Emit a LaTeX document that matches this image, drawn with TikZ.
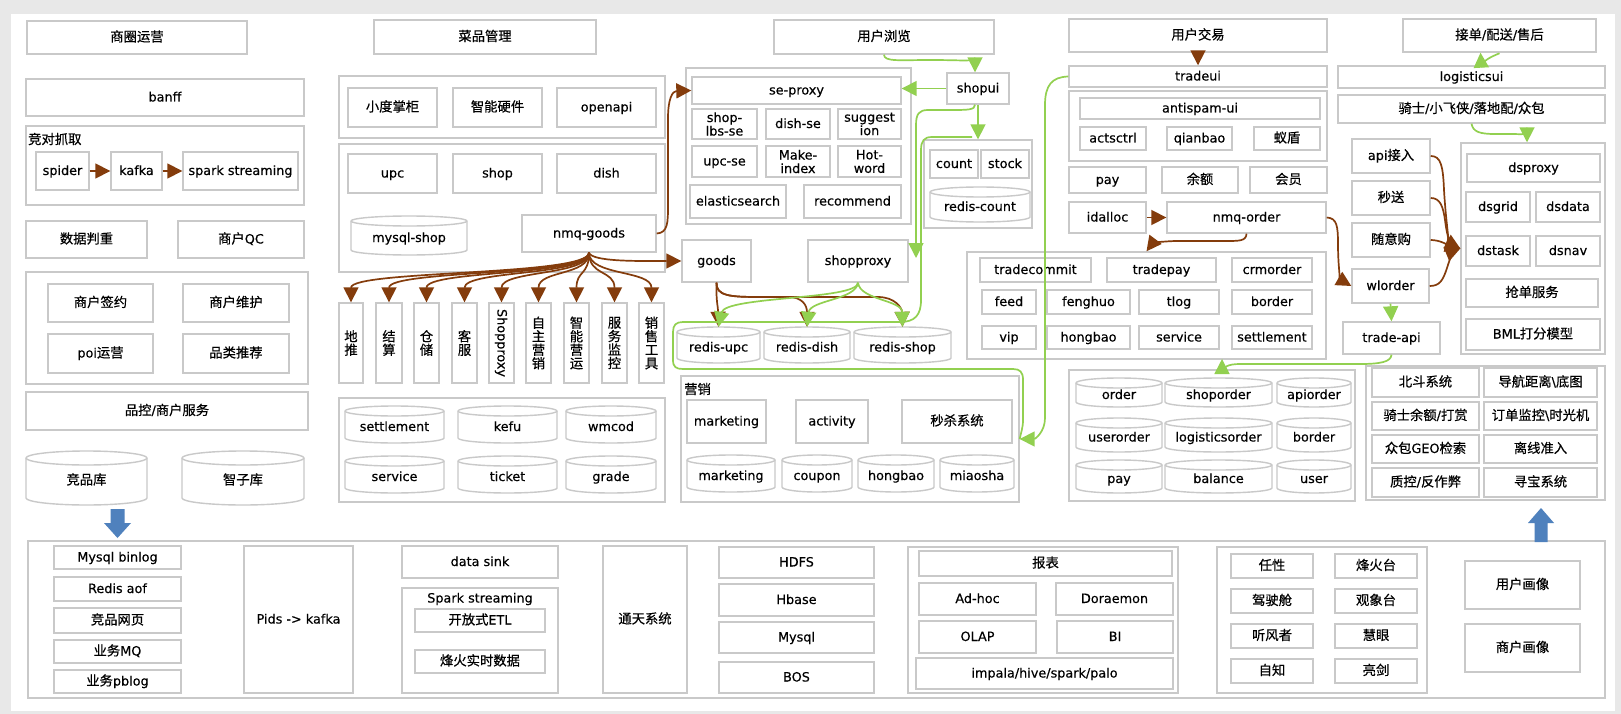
\documentclass[tikz,border=0pt]{standalone}
\usepackage{fontspec}
\setmainfont{DejaVu Sans}[FakeBold=0.4]
\newfontfamily\cjkfam{Noto Sans CJK SC}[Scale=1.04,FakeBold=0.5]
\newfontfamily\latfam{DejaVu Sans}[FakeBold=0.4]
\usetikzlibrary{fit,arrows.meta,shadows}
\XeTeXinterchartokenstate=1
\newXeTeXintercharclass\CJKcls
\makeatletter
\count@="3000
\loop
 \XeTeXcharclass\count@=\CJKcls
 \advance\count@\@ne
\ifnum\count@<"A000 \repeat
\makeatother
\XeTeXinterchartoks 0 \CJKcls = {\cjkfam}
\XeTeXinterchartoks 4095 \CJKcls = {\cjkfam}
\XeTeXinterchartoks \CJKcls 0 = {\latfam}
\definecolor{brn}{HTML}{843C0C}
\definecolor{grn}{HTML}{92D050}
\definecolor{blu}{HTML}{4F81BD}
\definecolor{bord}{HTML}{C9C9C9}
\definecolor{bgc}{HTML}{E8E8E8}
\definecolor{shd}{HTML}{E1E6EE}
\tikzset{
 bx/.style={draw=bord, line width=1.4pt, fill=white, inner sep=0pt,
   drop shadow={shadow xshift=1.3pt,shadow yshift=-1.3pt,fill=shd,opacity=1}},
 tx/.style={inner sep=0pt, text height=10.5pt, text depth=2.5pt},
 ml/.style={text height=, text depth=, align=center},
 cylst/.style={draw=bord, line width=1.4pt, fill=white},
 brar/.style={draw=brn, line width=1.7pt, -{Triangle[length=15pt,width=15pt]}},
 gnar/.style={draw=grn, line width=1.7pt, -{Triangle[length=15pt,width=15pt]}},
 gnl/.style={draw=grn, line width=1.7pt},
}
\newcommand\B[7][]{\node[bx,fit={(#3,#4)(#5,#6)}] (#2) {};
 \node[tx,#1] (#2t) at (#2.center) {#7};}
\newcommand\Cy[7][5]{%
 \pgfmathsetmacro\cyr{(#5-#3)/2}%
 \draw[cylst] (#3,#4+#1) -- (#3,#6-#1) arc[start angle=180,end angle=360,x radius=\cyr pt,y radius=#1pt] -- (#5,#4+#1) arc[start angle=0,end angle=180,x radius=\cyr pt,y radius=#1pt] -- cycle;
 \draw[cylst,fill=none] (#3,#4+#1) arc[start angle=180,end angle=360,x radius=\cyr pt,y radius=#1pt];
 \node[inner sep=0pt,fit={(#3,#4)(#5,#6)}] (#2) {};
 \node[tx] (#2t) at ([yshift=-2.5pt]#2.center) {#7};}
\begin{document}
\begin{tikzpicture}[x=1pt,y=-1pt,font=\fontsize{12.8}{13.5}\selectfont]
\useasboundingbox (0,0) rectangle (1621,714);
\fill[bgc] (0,0) rectangle (1621,714);
\fill[white] (11,14) rectangle (1615,711);
% ---------- column 1
\B{sqyy}{27}{21}{247}{54}{商圈运营}
\B{banff}{26}{79}{304}{116}{banff}
\B{jdc}{26}{126}{304}{205}{}
\node[anchor=west,inner sep=0pt] (jdl) at (28,139) {竞对抓取};
\B{spider}{36}{152}{89}{190}{spider}
\B{kafka}{111}{152}{162}{190}{kafka}
\B{spark}{183}{152}{298}{190}{spark streaming}
\B{sjpz}{26}{221}{147}{258}{数据判重}
\B{shqc}{178}{221}{304}{258}{商户QC}
\B{shc}{26}{272}{308}{384}{}
\B{shqy}{48}{284}{153}{322}{商户签约}
\B{shwh}{183}{284}{289}{322}{商户维护}
\B{poiyy}{48}{334}{153}{373}{poi运营}
\B{pltj}{183}{334}{289}{373}{品类推荐}
\B{pkfw}{26}{392}{308}{430}{品控/商户服务}
\Cy[7]{jpk}{26}{451}{147}{505}{竞品库}
\Cy[7]{zzk}{182}{451}{304}{505}{智子库}
% ---------- column 2
\B{cpgl}{374}{20}{596}{54}{菜品管理}
\B{cone}{339}{76}{665}{138}{}
\B{xdzg}{348}{88}{437}{127}{小度掌柜}
\B{znyj}{453}{88}{542}{127}{智能硬件}
\B{openapi}{557}{88}{656}{127}{openapi}
\B{ctwo}{339}{144}{665}{272}{}
\B{upc}{348}{154}{437}{193}{upc}
\B{shop}{453}{154}{542}{193}{shop}
\B{dish}{557}{154}{656}{193}{dish}
\Cy{mysqlshop}{351}{216}{467}{255}{mysql-shop}
\B{nmqgoods}{522}{215}{656}{252}{nmq-goods}
\B[ml]{dt}{339}{303}{363}{383}{地\\推}
\B[ml]{js}{376}{303}{402}{383}{结\\算}
\B[ml]{cc}{414}{303}{439}{383}{仓\\储}
\B[ml]{kf}{452}{303}{477}{383}{客\\服}
\B[rotate=-90]{spx}{489}{303}{514}{383}{Shopproxy}
\B[ml]{zzyx}{526}{303}{551}{383}{自\\主\\营\\销}
\B[ml]{znyy}{564}{303}{589}{383}{智\\能\\营\\运}
\B[ml]{fwjk}{602}{303}{627}{383}{服\\务\\监\\控}
\B[ml]{xsgj}{639}{303}{664}{383}{销\\售\\工\\具}
\B{cthree}{339}{398}{665}{502}{}
\Cy{settle}{345}{406}{444}{443}{settlement}
\Cy{kefu}{458}{406}{557}{443}{kefu}
\Cy{wmcod}{566}{406}{656}{443}{wmcod}
\Cy{service}{345}{456}{444}{493}{service}
\Cy{ticket}{458}{456}{557}{493}{ticket}
\Cy{grade}{566}{456}{656}{493}{grade}
% ---------- column 3
\B{yhll}{774}{20}{994}{54}{用户浏览}
\B{sec}{686}{68}{911}{224}{}
\B{seproxy}{692}{77}{901}{104}{se-proxy}
\B[ml]{shoplbs}{692}{109}{757}{139}{shop-\\lbs-se}
\B{dishse}{766}{109}{830}{139}{dish-se}
\B[ml]{suggest}{838}{109}{901}{139}{suggest\\ion}
\B{upcse}{692}{146}{757}{177}{upc-se}
\B[ml]{makeidx}{766}{146}{830}{177}{Make-\\index}
\B[ml]{hotword}{838}{146}{901}{177}{Hot-\\word}
\B{es}{690}{185}{786}{218}{elasticsearch}
\B{recommend}{804}{185}{901}{218}{recommend}
\B{shopui}{947}{73}{1009}{104}{shopui}
\B{cntc}{924}{140}{1032}{228}{}
\B{count}{930}{150}{978}{178}{count}
\B{stock}{981}{150}{1029}{178}{stock}
\Cy{rcount}{930}{187}{1030}{222}{redis-count}
\B{goods}{682}{240}{751}{282}{goods}
\B{shopproxy}{808}{240}{908}{282}{shopproxy}
\Cy{rupc}{677}{327}{760}{363}{redis-upc}
\Cy{rdish}{764}{327}{850}{363}{redis-dish}
\Cy{rshop}{854}{327}{951}{363}{redis-shop}
\B{yxc}{681}{376}{1019}{502}{}
\node[anchor=west,inner sep=0pt] (yxl) at (684,389) {营销};
\B{mkt}{687}{400}{766}{443}{marketing}
\B{activity}{796}{400}{868}{443}{activity}
\B{msxt}{902}{400}{1012}{443}{秒杀系统}
\Cy{mktdb}{687}{455}{775}{492}{marketing}
\Cy{coupon}{782}{455}{852}{492}{coupon}
\Cy{hongbao}{858}{455}{934}{492}{hongbao}
\Cy{miaosha}{940}{455}{1014}{492}{miaosha}
% ---------- column 4
\B{yhjy}{1069}{19}{1327}{52}{用户交易}
\B{tradeui}{1069}{66}{1327}{87}{tradeui}
\B{asc}{1069}{91}{1327}{161}{}
\B{antispam}{1080}{98}{1320}{119}{antispam-ui}
\B{actsctrl}{1080}{127}{1146}{150}{actsctrl}
\B{qianbao}{1167}{127}{1232}{150}{qianbao}
\B{yidun}{1254}{127}{1320}{150}{蚁盾}
\B{pay}{1069}{167}{1146}{193}{pay}
\B{yue}{1162}{167}{1238}{193}{余额}
\B{huiyuan}{1250}{167}{1327}{193}{会员}
\B{idalloc}{1069}{202}{1146}{233}{idalloc}
\B{nmqorder}{1167}{202}{1326}{233}{nmq-order}
\B{bigc}{967}{252}{1326}{359}{}
\B{tradecommit}{980}{258}{1091}{282}{tradecommit}
\B{tradepay}{1107}{258}{1216}{282}{tradepay}
\B{crmorder}{1232}{258}{1312}{282}{crmorder}
\B{feed}{982}{290}{1036}{314}{feed}
\B{fenghuo}{1047}{290}{1130}{314}{fenghuo}
\B{tlog}{1139}{290}{1219}{314}{tlog}
\B{border}{1232}{290}{1312}{314}{border}
\B{vip}{982}{326}{1036}{349}{vip}
\B{hongbaot}{1047}{326}{1130}{349}{hongbao}
\B{servicet}{1139}{326}{1219}{349}{service}
\B{settlet}{1232}{326}{1312}{349}{settlement}
\B{orderc}{1069}{370}{1355}{501}{}
\Cy{order}{1076}{378}{1162}{407}{order}
\Cy{shoporder}{1165}{378}{1272}{407}{shoporder}
\Cy{apiorder}{1277}{378}{1351}{407}{apiorder}
\Cy{userorder}{1076}{418}{1162}{452}{userorder}
\Cy{logorder}{1165}{418}{1272}{452}{logisticsorder}
\Cy{borderdb}{1277}{418}{1351}{452}{border}
\Cy{paydb}{1076}{460}{1162}{493}{pay}
\Cy{balance}{1165}{460}{1272}{493}{balance}
\Cy{userdb}{1277}{460}{1351}{493}{user}
% ---------- column 5
\B{jdps}{1403}{19}{1596}{52}{接单/配送/售后}
\B{logui}{1338}{66}{1605}{88}{logisticsui}
\B{qishi}{1338}{95}{1605}{123}{骑士/小飞侠/落地配/众包}
\B{apijr}{1352}{139}{1430}{173}{api接入}
\B{miaosong}{1352}{181}{1430}{215}{秒送}
\B{suiyigou}{1352}{223}{1430}{257}{随意购}
\B{wlorder}{1352}{269}{1429}{303}{wlorder}
\B{tradeapi}{1343}{322}{1440}{354}{trade-api}
\B{dsc}{1461}{143}{1605}{354}{}
\B{dsproxy}{1467}{154}{1600}{182}{dsproxy}
\B{dsgrid}{1466}{192}{1530}{222}{dsgrid}
\B{dsdata}{1536}{192}{1600}{222}{dsdata}
\B{dstask}{1466}{236}{1530}{266}{dstask}
\B{dsnav}{1536}{236}{1600}{266}{dsnav}
\B{qdfw}{1466}{279}{1598}{307}{抢单服务}
\B{bml}{1466}{319}{1600}{350}{BML打分模型}
\B{bdc}{1366}{366}{1605}{500}{}
\B{bdxt}{1372}{368}{1479}{397}{北斗系统}
\B{dhjl}{1484}{368}{1597}{397}{导航距离\textbackslash 底图}
\B{qsye}{1372}{402}{1479}{430}{骑士余额/打赏}
\B{ddjk}{1484}{402}{1597}{430}{订单监控\textbackslash 时光机}
\B{geo}{1372}{435}{1479}{463}{众包GEO检索}
\B{lxzr}{1484}{435}{1597}{463}{离线准入}
\B{zkfzb}{1372}{468}{1479}{497}{质控/反作弊}
\B{xbxt}{1484}{468}{1597}{497}{寻宝系统}
% ---------- bottom
\B{botc}{28}{541}{1605}{698}{}
\B{binlog}{54}{546}{181}{569}{Mysql binlog}
\B{aof}{54}{577}{181}{601}{Redis aof}
\B{jpwy}{54}{608}{181}{633}{竞品网页}
\B{ywmq}{54}{640}{181}{663}{业务MQ}
\B{ywpb}{54}{670}{181}{693}{业务pblog}
\B{pids}{244}{546}{353}{693}{Pids -> kafka}
\B{datasink}{402}{546}{558}{578}{data sink}
\B{sparkc}{402}{588}{558}{693}{}
\node (sparkl) at (480,599) {Spark streaming};
\B{etl}{415}{609}{545}{632}{开放式ETL}
\B{fhss}{415}{650}{545}{673}{烽火实时数据}
\B{ttxt}{603}{546}{687}{693}{通天系统}
\B{hdfs}{719}{547}{874}{578}{HDFS}
\B{hbase}{719}{584}{874}{616}{Hbase}
\B{mysql}{719}{622}{874}{653}{Mysql}
\B{bos}{719}{662}{874}{693}{BOS}
\B{bbc}{908}{547}{1178}{693}{}
\B{baobiao}{919}{551}{1172}{576}{报表}
\B{adhoc}{919}{583}{1036}{615}{Ad-hoc}
\B{doraemon}{1056}{583}{1173}{615}{Doraemon}
\B{olap}{919}{621}{1036}{653}{OLAP}
\B{bi}{1057}{621}{1173}{653}{BI}
\B{impala}{916}{658}{1173}{689}{impala/hive/spark/palo}
\B{gridc}{1217}{547}{1427}{693}{}
\B{renxing}{1231}{554}{1313}{578}{任性}
\B{fht}{1335}{554}{1417}{578}{烽火台}
\B{jsc}{1231}{589}{1313}{613}{驾驶舱}
\B{gxt}{1335}{589}{1417}{613}{观象台}
\B{tfz}{1231}{624}{1313}{648}{听风者}
\B{huiyan}{1335}{624}{1417}{648}{慧眼}
\B{zizhi}{1231}{659}{1313}{683}{自知}
\B{liangjian}{1335}{659}{1417}{683}{亮剑}
\B{yhhx}{1465}{561}{1580}{609}{用户画像}
\B{shhx}{1465}{624}{1580}{672}{商户画像}
% ---------- blue block arrows
\fill[blu] (110.5,509) -- (124.5,509) -- (124.5,523) -- (131,523) -- (117.5,538) -- (104,523) -- (110.5,523) -- cycle;
\fill[blu] (1534.5,542) -- (1547.5,542) -- (1547.5,523) -- (1554,523) -- (1541,508) -- (1528,523) -- (1534.5,523) -- cycle;
% ---------- brown connectors
\draw[brar] (spider) -- (kafka);
\draw[brar] (kafka) -- (spark);
\foreach \t/\xx in {dt/351,js/389,cc/426.5,kf/464.5,spx/501.5,zzyx/538.5,znyy/576.5,fwjk/614.5,xsgj/651.5}
  \draw[brar] (nmqgoods.south) .. controls (589,276) and (\xx,270) .. (\t.north);
\draw[brar] (nmqgoods.south) .. controls (592,262) and (640,261) .. (goods.west);
\draw[brar] (nmqgoods.east) .. controls (668,233) and (668,222) .. (668,205) -- (668,118) .. controls (668,100) and (672,91) .. (seproxy.west);
\draw[brar] (goods.south) .. controls (716,302) and (718,306) .. (rupc.north);
\draw[brar] (goods.south) .. controls (716,296) and (730,297) .. (760,297) -- (788,297) .. controls (802,297) and (807,305) .. (rdish.north);
\draw[brar] (goods.south) .. controls (716,296) and (730,297) .. (760,297) -- (878,297) .. controls (895,297) and (902,308) .. (rshop.north);
\draw[brar] (yhjy.south) -- (tradeui.north);
\draw[brar] (idalloc) -- (nmqorder);
\draw[brar] (nmqorder.south) .. controls (1246,241) and (1240,241) .. (1225,241) -- (1178,241) .. controls (1162,241) and (1152,244) .. (bigc.north);
\draw[brar] (nmqorder.east) .. controls (1337,218) and (1338,226) .. (1338,245) .. controls (1338,268) and (1341,280) .. (wlorder.west);
\draw[brar] (apijr.east) .. controls (1441,156) and (1443,166) .. (1444,190) .. controls (1446,225) and (1450,243) .. (dsc.west);
\draw[brar] (miaosong.east) .. controls (1440,198) and (1443,206) .. (1445,220) .. controls (1447,238) and (1452,246) .. (dsc.west);
\draw[brar] (suiyigou.east) .. controls (1440,240) and (1448,245) .. (dsc.west);
\draw[brar] (wlorder.east) .. controls (1440,286) and (1443,280) .. (1447,268) .. controls (1450,258) and (1454,251) .. (dsc.west);
% ---------- green connectors
\draw[gnar] (yhll.south) .. controls (884,62) and (900,60) .. (930,60) .. controls (965,60) and (975,62) .. ([xshift=-3pt]shopui.north);
\draw[gnar] (shopui.west) -- (seproxy.east |- shopui.west);
\draw[gnar] (shopui.south) -- (shopui.south |- cntc.north);
\draw[gnar] ([xshift=-3pt]shopui.south) .. controls (975,110) and (968,110) .. (950,110) -- (928,110) .. controls (919,110) and (916,114) .. (916,125) -- (916,258);
\draw[gnl] (972,137) -- (932,137) .. controls (924,137) and (921,141) .. (921,150) -- (921,300) .. controls (921,315) and (915,322) .. (900,322) -- (683,322) .. controls (676,322) and (673,325) .. (673,332) -- (673,360) .. controls (673,367) and (676,369) .. (683,369) -- (1013,369) .. controls (1020,369) and (1023,372) .. (1023,380) -- (1023,420) .. controls (1023,428) and (1021,432) .. (yxc.east);
\draw[gnar] (shopproxy.south) .. controls (858,300) and (725,296) .. (rupc.north);
\draw[gnar] (shopproxy.south) .. controls (856,300) and (810,300) .. (rdish.north);
\draw[gnar] (shopproxy.south) .. controls (860,300) and (902,300) .. (rshop.north);
\draw[gnar] (tradeui.west) .. controls (1052,77) and (1045,85) .. (1045,105) -- (1045,418) .. controls (1045,432) and (1035,439) .. (yxc.east);
\draw[gnar] (wlorder.south) -- (tradeapi.north);
\coordinate (tpin) at (1222,359);
\draw[gnar] (tradeapi.south) .. controls (1391,362) and (1380,364) .. (1360,364) -- (1240,364) .. controls (1228,364) and (1222,367) .. (tpin);
\draw[gnar] (qishi.south) .. controls (1473,132) and (1480,134) .. (1495,134) -- (1512,134) .. controls (1523,134) and (1527,136) .. ([xshift=-6pt]dsc.north);
\draw[gnar] ([xshift=28pt,yshift=12pt]logui.north) .. controls (1490,57) and (1481,62) .. ([xshift=-19pt]jdps.south);
\end{tikzpicture}
\end{document}
